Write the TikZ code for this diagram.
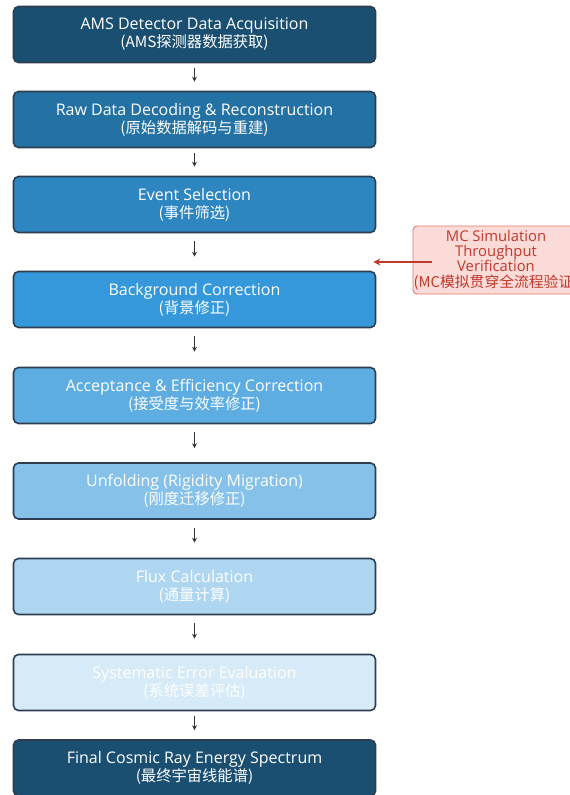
\documentclass[tikz,border=0pt]{standalone}
\usepackage{fontspec}
\setmainfont{Open Sans}
\newfontfamily\cjk{Noto Sans CJK SC}
\usetikzlibrary{arrows.meta}
\definecolor{c1}{HTML}{1B4F72}
\definecolor{c2}{HTML}{2471A3}
\definecolor{c3}{HTML}{2E86C1}
\definecolor{c4}{HTML}{3498DB}
\definecolor{c5}{HTML}{5DADE2}
\definecolor{c6}{HTML}{85C1E9}
\definecolor{c7}{HTML}{AED6F1}
\definecolor{c8}{HTML}{D6EAF8}
\definecolor{edge}{HTML}{2C3E50}
\definecolor{mcfill}{HTML}{FADBD8}
\definecolor{mcedge}{HTML}{E6786E}
\definecolor{mctext}{HTML}{C0392B}
\newcommand{\zh}[1]{{\cjk\fontsize{15.3}{18}\selectfont #1}}
\tikzset{
  stage/.style={draw=edge, line width=1.6pt, rounded corners=5pt,
    minimum width=362pt, minimum height=56pt, align=center, text=white,
    font=\fontsize{16}{18}\selectfont, inner sep=0pt},
  arr/.style={draw=black!80, line width=1pt, -{Stealth[length=5pt,width=5pt]}},
  mcbox/.style={draw=mcedge, line width=0.9pt, fill=mcfill, rounded corners=4pt,
    text=mctext, align=center, font=\fontsize{14.8}{15.3}\selectfont,
    minimum width=166pt, minimum height=68pt, inner sep=0pt},
  redarr/.style={draw=mctext, line width=1.6pt, -{Stealth[length=7pt,width=7pt]}}
}
\begin{document}
\begin{tikzpicture}[x=1pt,y=-1pt]
\useasboundingbox (0,0) rectangle (570,795);
\fill[white] (0,0) rectangle (570,795);
\node[stage, fill=c1] (b1) at (194.5,34.5) {AMS Detector Data Acquisition\\\zh{(AMS探测器数据获取)}};
\node[stage, fill=c2] (b2) at (194.5,119.5) {Raw Data Decoding \& Reconstruction\\\zh{(原始数据解码与重建)}};
\node[stage, fill=c3] (b3) at (194.5,204.5) {Event Selection\\\zh{(事件筛选)}};
\node[stage, fill=c4] (b4) at (194.5,299.5) {Background Correction\\\zh{(背景修正)}};
\node[stage, fill=c5] (b5) at (194.5,395.5) {Acceptance \& Efficiency Correction\\\zh{(接受度与效率修正)}};
\node[stage, fill=c6] (b6) at (194.5,491) {Unfolding (Rigidity Migration)\\\zh{(刚度迁移修正)}};
\node[stage, fill=c7] (b7) at (194.5,586.5) {Flux Calculation\\\zh{(通量计算)}};
\node[stage, fill=c8] (b8) at (194.5,682.5) {Systematic Error Evaluation\\\zh{(系统误差评估)}};
\node[stage, fill=c1] (b9) at (194.5,768) {Final Cosmic Ray Energy Spectrum\\\zh{(最终宇宙线能谱)}};
\node[mcbox] (mc) at (496,260) {MC Simulation\\Throughput\\Verification\\{\cjk (MC模拟贯穿全流程验证)}};
\draw[arr, shorten <=5pt, shorten >=9pt] (b1) -- (b2);
\draw[arr, shorten <=5pt, shorten >=9pt] (b2) -- (b3);
\draw[arr, shorten <=8pt, shorten >=14pt] (b3) -- (b4);
\draw[arr, shorten <=8pt, shorten >=15pt] (b4) -- (b5);
\draw[arr, shorten <=8pt, shorten >=14pt] (b5) -- (b6);
\draw[arr, shorten <=8pt, shorten >=15pt] (b6) -- (b7);
\draw[arr, shorten <=8pt, shorten >=15pt] (b7) -- (b8);
\draw[arr, shorten <=5pt, shorten >=9pt] (b8) -- (b9);
\coordinate (rs) at ([xshift=19pt,yshift=-2pt]mc.west);
\coordinate (re) at ([xshift=-3pt]b4.east |- rs);
\draw[redarr] (rs) -- (re);
\end{tikzpicture}
\end{document}
